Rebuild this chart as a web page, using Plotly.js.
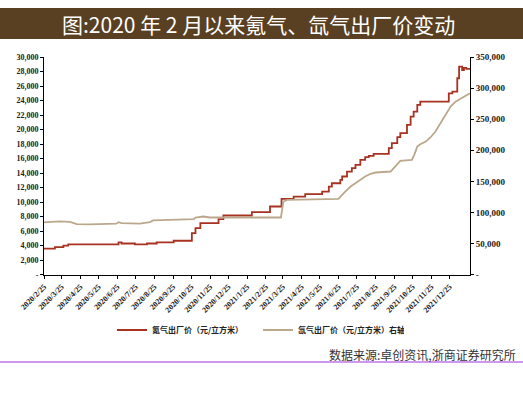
<!DOCTYPE html>
<html>
<head>
<meta charset="utf-8">
<script src="https://cdn.plot.ly/plotly-3.0.1.min.js"></script>
<style>html,body{margin:0;padding:0;background:#fff;}#chart{width:523px;height:394px;}</style>
</head>
<body>
<div id="chart"></div>
<script>
// Krypton (left axis), yuan per cubic metre
const krDates = ['2020-02-25','2020-03-14','2020-03-28','2020-04-05','2020-06-27','2020-07-02','2020-07-24','2020-08-13','2020-08-29','2020-09-26','2020-10-26','2020-11-01','2020-11-09','2020-12-09','2020-12-17','2021-02-02','2021-03-04','2021-03-23','2021-04-12','2021-05-01','2021-05-29','2021-06-09','2021-06-14','2021-06-28','2021-07-01','2021-07-09','2021-07-17','2021-07-23','2021-07-31','2021-08-08','2021-08-14','2021-08-22','2021-09-16','2021-09-21','2021-09-30','2021-10-05','2021-10-16','2021-10-22','2021-10-27','2021-11-02','2021-11-07','2021-11-13','2021-12-24','2021-12-30','2022-01-07','2022-01-10','2022-01-15','2022-01-18','2022-01-22','2022-01-28'];
const krValues = [3600,3800,4000,4170,4450,4300,4170,4300,4450,4680,5730,6420,7110,7660,8160,8620,9400,10460,10770,11100,11460,12150,12600,13070,13530,14210,14680,15140,15820,16190,16370,16650,17430,18120,18950,19500,20640,21780,22470,23390,23850,23850,25000,25220,27070,28660,28210,28500,28350,28350];
// Xenon (right axis), yuan per cubic metre
const xeDates = ['2020-02-25','2020-03-22','2020-04-08','2020-04-19','2020-05-11','2020-06-07','2020-06-23','2020-06-27','2020-07-02','2020-08-01','2020-08-18','2020-08-23','2020-09-15','2020-10-29','2020-11-01','2020-11-14','2020-11-25','2021-03-22','2021-03-26','2021-04-01','2021-06-25','2021-06-28','2021-07-06','2021-07-15','2021-07-23','2021-07-31','2021-08-08','2021-08-17','2021-08-25','2021-09-19','2021-09-24','2021-09-30','2021-10-05','2021-10-24','2021-10-28','2021-11-02','2021-11-07','2021-11-16','2021-11-24','2021-12-02','2021-12-10','2021-12-19','2021-12-27','2022-01-04','2022-01-13','2022-01-21','2022-01-28'];
const xeValues = [84000,85600,85000,81400,81000,82000,82000,84500,82800,82000,84600,87200,88300,89400,92000,93600,92000,92000,117700,120400,122000,125700,133700,141800,147200,152500,157800,162200,164300,165900,171300,179300,183000,184600,192700,206000,209800,214000,221000,230100,243500,256900,270200,278200,283700,287900,291700];

const leftTicks = [0,2000,4000,6000,8000,10000,12000,14000,16000,18000,20000,22000,24000,26000,28000,30000];
const leftLabels = ['-','2,000','4,000','6,000','8,000','10,000','12,000','14,000','16,000','18,000','20,000','22,000','24,000','26,000','28,000','30,000'];
const rightTicks = [0,50000,100000,150000,200000,250000,300000,350000];
const rightLabels = ['-','50,000','100,000','150,000','200,000','250,000','300,000','350,000'];
const xTicks = ['2020-02-25','2020-03-25','2020-04-25','2020-05-25','2020-06-25','2020-07-25','2020-08-25','2020-09-25','2020-10-25','2020-11-25','2020-12-25','2021-01-25','2021-02-25','2021-03-25','2021-04-25','2021-05-25','2021-06-25','2021-07-25','2021-08-25','2021-09-25','2021-10-25','2021-11-25','2021-12-25'];
const xLabels = ['2020/2/25','2020/3/25','2020/4/25','2020/5/25','2020/6/25','2020/7/25','2020/8/25','2020/9/25','2020/10/25','2020/11/25','2020/12/25','2021/1/25','2021/2/25','2021/3/25','2021/4/25','2021/5/25','2021/6/25','2021/7/25','2021/8/25','2021/9/25','2021/10/25','2021/11/25','2021/12/25'];

const titleText = '图:2020 年 2 月以来氪气、氙气出厂价变动';
const sourceText = '数据来源:卓创资讯,浙商证券研究所';
const krName = '氪气出厂价（元/立方米）';
const xeName = '氙气出厂价（元/立方米）右轴';

const tickFont = {family: 'Liberation Serif, serif', size: 8, color: '#222', weight: 'bold'};
const tickFontR = {family: 'Liberation Serif, serif', size: 9, color: '#222', weight: 'bold'};
const L = 44, R = 53, T = 57, B = 119, W = 523, H = 394;
const pw = W - L - R, ph = H - T - B;
const px = v => (v - L) / pw;
const py = v => (H - B - v) / ph;

const traces = [
  {x: krDates, y: krValues, name: krName, type: 'scatter', mode: 'lines', line: {color: '#a83222', width: 1.8, shape: 'hv'}, yaxis: 'y'},
  {x: xeDates, y: xeValues, name: xeName, type: 'scatter', mode: 'lines', line: {color: '#bba88c', width: 1.8}, yaxis: 'y2'}
];

const layout = {
  width: W, height: H,
  margin: {l: L, r: R, t: T, b: B, pad: 0},
  paper_bgcolor: '#fff', plot_bgcolor: '#fff',
  showlegend: true,
  legend: {orientation: 'h', x: px(112), xanchor: 'left', y: py(330), yanchor: 'middle',
    font: {family: 'Noto Sans CJK SC', size: 8, color: '#222', weight: 'bold'},
    itemwidth: 30, entrywidth: 101, entrywidthmode: 'pixels', bgcolor: 'rgba(0,0,0,0)'},
  xaxis: {type: 'date', range: ['2020-02-25', '2022-01-28'], tickmode: 'array', tickvals: xTicks, ticktext: xLabels,
    tickangle: -45, tickfont: tickFont, showgrid: false, zeroline: false, showline: true, linecolor: '#000', linewidth: 1,
    ticks: 'outside', ticklen: 3, tickcolor: '#000'},
  yaxis: {range: [-40, 30000], tickmode: 'array', tickvals: leftTicks, ticktext: leftLabels, tickfont: tickFont,
    showgrid: false, zeroline: false, showline: true, linecolor: '#000', linewidth: 1, ticks: 'outside', ticklen: 3, tickcolor: '#000'},
  yaxis2: {range: [-460, 350000], overlaying: 'y', side: 'right', tickmode: 'array', tickvals: rightTicks, ticktext: rightLabels,
    tickfont: tickFontR, showgrid: false, zeroline: false, showline: true, linecolor: '#000', linewidth: 1, ticks: 'outside', ticklen: 3, tickcolor: '#000'},
  shapes: [
    {type: 'rect', xref: 'paper', yref: 'paper', x0: px(0), x1: px(523), y0: py(39), y1: py(8), fillcolor: '#5a4023', line: {width: 0}, layer: 'below'},
    {type: 'line', xref: 'paper', yref: 'paper', x0: px(0), x1: px(523), y0: py(362), y1: py(362), line: {color: '#a030e0', width: 1.2}}
  ],
  annotations: [
    {text: titleText, xref: 'paper', yref: 'paper', x: px(258), y: py(24), xanchor: 'center', yanchor: 'middle', showarrow: false,
      font: {family: 'Noto Sans CJK SC', size: 21, color: '#ffffff'}},
    {text: sourceText, xref: 'paper', yref: 'paper', x: px(518), y: py(354), xanchor: 'right', yanchor: 'middle', showarrow: false,
      font: {family: 'Noto Sans CJK SC', size: 12, color: '#333'}}
  ]
};

Plotly.newPlot('chart', traces, layout, {displayModeBar: false, staticPlot: true});
</script>
</body>
</html>
